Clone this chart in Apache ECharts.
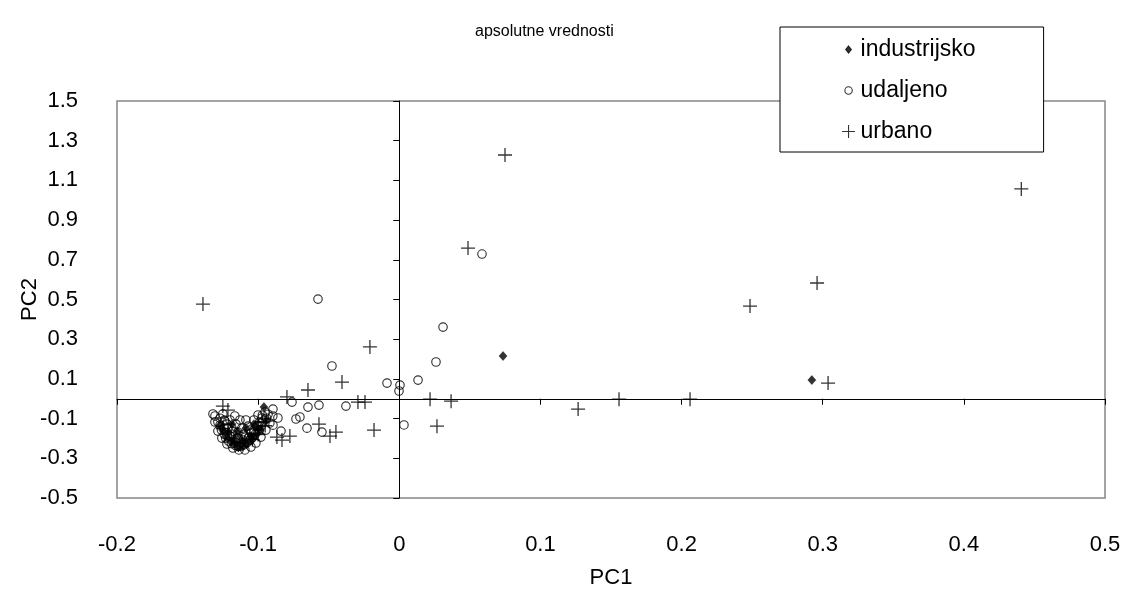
<!DOCTYPE html>
<html>
<head>
<meta charset="utf-8">
<script src="https://cdn.jsdelivr.net/npm/echarts@6/dist/echarts.min.js"></script>
<style>
  html, body { margin: 0; padding: 0; background: #fff; }
  #chart { width: 1127px; height: 594px; }
</style>
</head>
<body>
<div id="chart"></div>
<script>
// Chart text
const chartTitle = 'apsolutne vrednosti';
const xName = 'PC1';
const yName = 'PC2';
const seriesNames = ['industrijsko', 'udaljeno', 'urbano'];

// Axis tick values
const pc1Ticks = [-0.2, -0.1, 0, 0.1, 0.2, 0.3, 0.4, 0.5];
const pc2Ticks = [-0.5, -0.3, -0.1, 0.1, 0.3, 0.5, 0.7, 0.9, 1.1, 1.3, 1.5];

// [PC1, PC2] scores per group
const industrijsko = [
  [0.0735, 0.215], [0.2923, 0.094], [-0.0959, -0.042],
  [-0.117, -0.205], [-0.111, -0.215], [-0.105, -0.190],
  [-0.100, -0.150], [-0.121, -0.170], [-0.108, -0.228],
  [-0.1271, -0.133], [-0.1228, -0.193], [-0.1172, -0.228], [-0.1108, -0.238],
  [-0.1044, -0.208], [-0.0987, -0.158], [-0.0938, -0.108],
  [-0.1143, -0.168], [-0.1087, -0.148], [-0.1186, -0.128], [-0.1030, -0.128],
  [-0.1250, -0.160], [-0.1195, -0.215], [-0.1140, -0.245], [-0.1020, -0.185]
];

const udaljeno = [
  [-0.0576, 0.502], [0.0586, 0.729], [0.0310, 0.361], [0.0260, 0.185],
  [0.0133, 0.094], [0.0005, 0.069], [-0.0002, 0.039], [-0.0087, 0.079],
  [-0.0477, 0.165], [-0.0760, -0.017], [-0.0647, -0.042], [-0.0569, -0.032],
  [-0.0378, -0.037], [0.0033, -0.132], [-0.0732, -0.102], [-0.0704, -0.092],
  [-0.0654, -0.148], [-0.0548, -0.168], [-0.0860, -0.097], [-0.0895, -0.052],
  [-0.0895, -0.133], [-0.0838, -0.163], [-0.1306, -0.087], [-0.1285, -0.117],
  [-0.127, -0.133], [-0.126, -0.158], [-0.124, -0.178], [-0.123, -0.198],
  [-0.121, -0.213], [-0.119, -0.226], [-0.116, -0.236], [-0.114, -0.240],
  [-0.112, -0.238], [-0.110, -0.232], [-0.108, -0.222], [-0.106, -0.210],
  [-0.104, -0.196], [-0.102, -0.178], [-0.099, -0.158], [-0.098, -0.138],
  [-0.097, -0.118], [-0.094, -0.098], [-0.093, -0.078], [-0.124, -0.148],
  [-0.120, -0.188], [-0.116, -0.213], [-0.112, -0.223], [-0.107, -0.198],
  [-0.103, -0.158], [-0.099, -0.118], [-0.122, -0.128], [-0.118, -0.163],
  [-0.114, -0.198], [-0.109, -0.193], [-0.105, -0.173], [-0.101, -0.138],
  [-0.097, -0.083], [-0.124, -0.108], [-0.127, -0.098],
  [-0.1320, -0.077], [-0.1306, -0.117], [-0.1285, -0.163], [-0.1257, -0.198],
  [-0.1221, -0.228], [-0.1179, -0.248], [-0.1136, -0.258], [-0.1094, -0.258],
  [-0.1051, -0.243], [-0.1016, -0.223], [-0.0980, -0.193], [-0.0945, -0.158],
  [-0.0917, -0.122], [-0.0896, -0.087],
  [-0.1250, -0.077], [-0.1236, -0.112], [-0.1214, -0.148], [-0.1186, -0.178],
  [-0.1150, -0.198], [-0.1108, -0.208], [-0.1065, -0.193], [-0.1030, -0.168],
  [-0.1001, -0.133], [-0.0973, -0.097], [-0.0952, -0.067],
  [-0.1200, -0.107], [-0.1157, -0.128], [-0.1115, -0.148], [-0.1072, -0.138],
  [-0.1030, -0.107], [-0.1143, -0.168], [-0.1101, -0.178], [-0.1186, -0.148],
  [-0.1058, -0.158], [-0.1129, -0.107], [-0.1087, -0.107], [-0.1001, -0.082],
  [-0.1165, -0.087]
];

const urbano = [
  [0.0749, 1.228], [0.4407, 1.057], [0.2960, 0.583], [0.2485, 0.467],
  [0.3038, 0.079], [-0.1391, 0.477], [0.0487, 0.759], [-0.0208, 0.261],
  [-0.0406, 0.084], [-0.0647, 0.044], [-0.0796, 0.009], [-0.0293, -0.017],
  [-0.0243, -0.017], [0.0218, -0.002], [0.0367, -0.012], [0.1267, -0.052],
  [0.1557, -0.002], [0.2060, -0.002], [0.0267, -0.138], [-0.0179, -0.158],
  [-0.0449, -0.168], [-0.0491, -0.188], [-0.0569, -0.128], [-0.0775, -0.188],
  [-0.0831, -0.208], [-0.0867, -0.193], [-0.125, -0.037], [-0.1214, -0.057],
  [-0.0973, -0.118], [-0.119, -0.200], [-0.113, -0.225], [-0.104, -0.205],
  [-0.100, -0.180], [-0.125, -0.150], [-0.095, -0.135]
];

// Marker shapes (legend versions carry an empty margin so they stay small)
const plusPath = 'path://M0 7L14 7M7 0L7 14';
const legendDiamond = 'path://M0 0M7 3.5L9.8 7L7 10.5L4.2 7Z M14 14';
const legendCircle = 'path://M0 0M7 3.3A3.7 3.7 0 1 1 7 10.7A3.7 3.7 0 1 1 7 3.3Z M14 14';
const legendPlus = 'path://M0 0M0.5 7L13.5 7M7 0.5L7 13.5M14 14';

const FONT = 'Liberation Sans, Arial, sans-serif';
const fmt = v => String(Math.round(v * 10) / 10);

const xMin = pc1Ticks[0], xMax = pc1Ticks[pc1Ticks.length - 1];
const xStep = Math.round((pc1Ticks[1] - pc1Ticks[0]) * 10) / 10;
const yMin = pc2Ticks[0], yMax = pc2Ticks[pc2Ticks.length - 1];
const yStep = Math.round((pc2Ticks[1] - pc2Ticks[0]) * 10) / 10;

const chart = echarts.init(document.getElementById('chart'), null, { renderer: 'canvas' });

const option = {
  animation: false,
  backgroundColor: '#fff',
  title: {
    text: chartTitle,
    left: 470,
    top: 19,
    textStyle: { fontFamily: FONT, fontSize: 16, fontWeight: 'normal', color: '#000' }
  },
  legend: {
    orient: 'vertical',
    left: 780,
    top: 27,
    padding: [11, 68, 9, 61],
    itemGap: 18,
    itemWidth: 14,
    itemHeight: 14,
    itemTextGap: 3,
    backgroundColor: '#fff',
    borderColor: '#000',
    borderWidth: 1,
    borderRadius: 0,
    itemStyle: { borderWidth: 1.1 },
    textStyle: { fontFamily: FONT, fontSize: 23, color: '#000' },
    data: [
      { name: seriesNames[0], icon: legendDiamond },
      { name: seriesNames[1], icon: legendCircle },
      { name: seriesNames[2], icon: legendPlus }
    ]
  },
  grid: {
    left: 117,
    right: 22,
    top: 101,
    bottom: 96,
    show: true,
    backgroundColor: '#fff',
    borderColor: '#868686',
    borderWidth: 1.5
  },
  xAxis: [
    {
      type: 'value', min: xMin, max: xMax, interval: xStep,
      position: 'bottom',
      name: xName, nameLocation: 'middle', nameGap: 69, nameMoveOverlap: false,
      nameTextStyle: { fontFamily: FONT, fontSize: 22, color: '#000' },
      axisLine: { show: false, onZero: false },
      axisTick: { show: false },
      splitLine: { show: false },
      axisLabel: { fontFamily: FONT, fontSize: 22, color: '#000', margin: 36, formatter: fmt }
    },
    {
      type: 'value', min: xMin, max: xMax, interval: xStep,
      position: 'top',
      axisLine: { show: true, onZero: true, lineStyle: { color: '#000', width: 1 } },
      axisTick: { show: true, inside: true, length: 6, lineStyle: { color: '#000', width: 1 } },
      axisLabel: { show: false },
      splitLine: { show: false }
    }
  ],
  yAxis: [
    {
      type: 'value', min: yMin, max: yMax, interval: yStep,
      position: 'left',
      name: yName, nameLocation: 'middle', nameGap: 76, nameMoveOverlap: false,
      nameTextStyle: { fontFamily: FONT, fontSize: 22, color: '#000' },
      axisLine: { show: false, onZero: false },
      axisTick: { show: false },
      splitLine: { show: false },
      axisLabel: { fontFamily: FONT, fontSize: 22, color: '#000', margin: 39, formatter: fmt }
    },
    {
      type: 'value', min: yMin, max: yMax, interval: yStep,
      position: 'right',
      axisLine: { show: true, onZero: true, lineStyle: { color: '#000', width: 1 } },
      axisTick: { show: true, inside: true, length: 6, lineStyle: { color: '#000', width: 1 } },
      axisLabel: { show: false },
      splitLine: { show: false }
    }
  ],
  series: [
    {
      name: seriesNames[1],
      type: 'scatter',
      xAxisIndex: 0, yAxisIndex: 0,
      symbol: 'circle',
      symbolSize: 8.5,
      itemStyle: { color: 'rgba(0,0,0,0)', borderColor: '#000', borderWidth: 1.15 },
      data: udaljeno,
      z: 3
    },
    {
      name: seriesNames[2],
      type: 'scatter',
      xAxisIndex: 0, yAxisIndex: 0,
      symbol: plusPath,
      symbolSize: 14,
      itemStyle: { color: 'rgba(0,0,0,0)', borderColor: '#000', borderWidth: 1.3 },
      data: urbano,
      z: 4
    },
    {
      name: seriesNames[0],
      type: 'scatter',
      xAxisIndex: 0, yAxisIndex: 0,
      symbol: 'diamond',
      symbolSize: [8, 9],
      itemStyle: { color: '#000', borderColor: '#000', borderWidth: 0.5 },
      data: industrijsko,
      z: 5
    }
  ]
};

chart.setOption(option);
</script>
</body>
</html>
